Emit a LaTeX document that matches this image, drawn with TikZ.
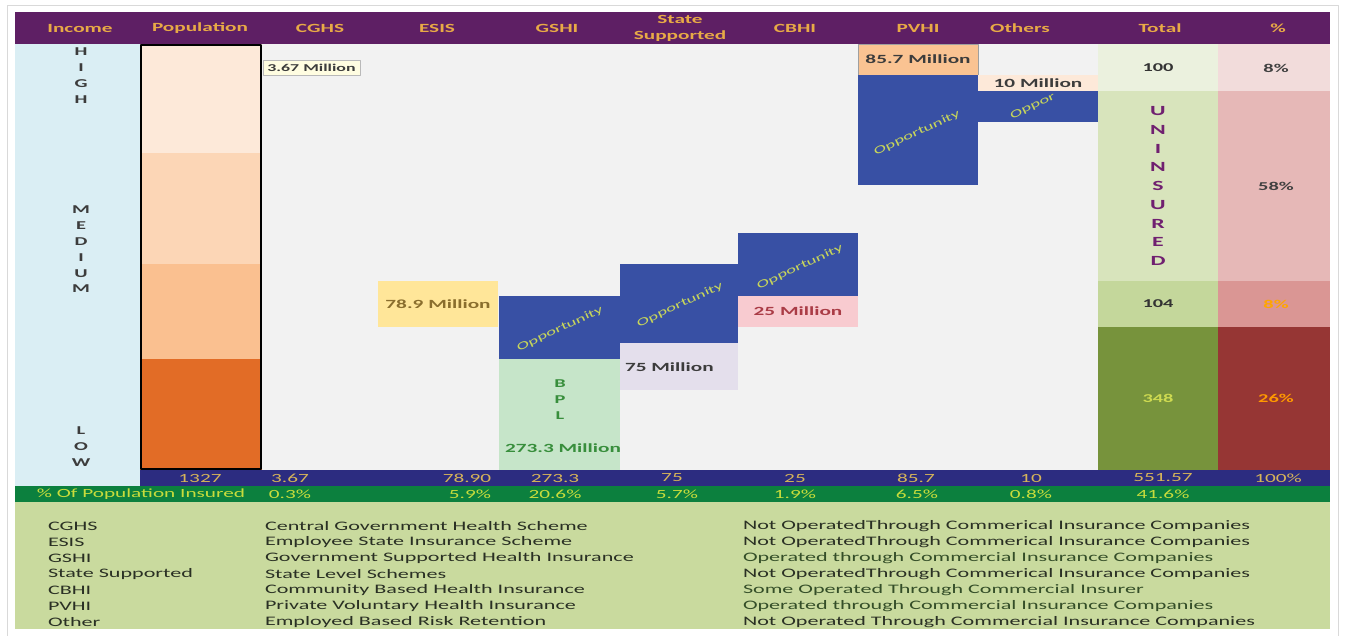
\documentclass[tikz,border=0pt]{standalone}
\usepackage{fontspec}
\setmainfont{Carlito}[FakeStretch=1.7]
\definecolor{hdrpurple}{RGB}{94,31,100}
\definecolor{hdrgold}{RGB}{232,170,70}
\definecolor{incblue}{RGB}{218,238,244}
\definecolor{popA}{RGB}{253,233,217}
\definecolor{popB}{RGB}{252,214,182}
\definecolor{popC}{RGB}{250,192,144}
\definecolor{popD}{RGB}{226,108,38}
\definecolor{plotgray}{RGB}{242,242,242}
\definecolor{oppblue}{RGB}{56,80,164}
\definecolor{oppgreen}{RGB}{200,214,90}
\definecolor{lblyellow}{RGB}{255,230,153}
\definecolor{lblolive}{RGB}{138,110,45}
\definecolor{paleyellow}{RGB}{255,253,225}
\definecolor{bplgreen}{RGB}{198,229,201}
\definecolor{bpltext}{RGB}{56,142,60}
\definecolor{lavender}{RGB}{228,223,236}
\definecolor{pinkbox}{RGB}{248,203,208}
\definecolor{pinktext}{RGB}{170,60,70}
\definecolor{peach}{RGB}{250,195,146}
\definecolor{palepeach}{RGB}{253,233,217}
\definecolor{totA}{RGB}{235,241,222}
\definecolor{totB}{RGB}{216,228,188}
\definecolor{totC}{RGB}{196,215,155}
\definecolor{totD}{RGB}{119,147,60}
\definecolor{pctA}{RGB}{242,220,219}
\definecolor{pctB}{RGB}{230,184,183}
\definecolor{pctC}{RGB}{218,150,148}
\definecolor{pctD}{RGB}{150,54,52}
\definecolor{uninsured}{RGB}{112,32,112}
\definecolor{navyrow}{RGB}{44,44,128}
\definecolor{navytext}{RGB}{214,180,90}
\definecolor{greenrow}{RGB}{12,128,62}
\definecolor{greentext}{RGB}{200,220,60}
\definecolor{legendbg}{RGB}{201,218,158}
\definecolor{legendtext}{RGB}{42,48,36}
\definecolor{legendgreen}{RGB}{52,78,40}
\definecolor{darktext}{RGB}{60,60,60}
\begin{document}
\begin{tikzpicture}[x=1pt, y=-1pt, line join=round, font=\fontsize{12.5}{15}\selectfont,
	every node/.style={inner sep=0pt, outer sep=0pt},
	hdr/.style={text=hdrgold, font=\fontsize{12.5}{16}\selectfont\bfseries, align=center},
	lbl/.style 2 args={minimum width=#1pt, minimum height=#2pt, font=\fontsize{12.5}{15}\selectfont\bfseries},
	opp/.style={text=oppgreen, rotate=25, font=\fontsize{11}{13}\selectfont},
	letter/.style={text=darktext, font=\fontsize{12}{14}\selectfont\bfseries},
	legend/.style={anchor=west, font=\fontsize{13}{15}\selectfont}]
	\useasboundingbox (0,0) rectangle (1346,635);
	\fill[white] (0,0) rectangle (1346,635);
	\draw[gray!30] (7.5,5.5) rectangle (1338.5,640);
	% header row
	\fill[hdrpurple] (15,12) rectangle (1330,44);
	\foreach \x/\t/\n in {80/Income/inc, 200/Population/pop, 320/CGHS/cghs, 437/ESIS/esis, 557/GSHI/gshi,
		680/{State\\Supported}/state, 795/CBHI/cbhi, 918/PVHI/pvhi, 1020/Others/oth, 1160/Total/tot, 1278/\%/pct}
	\node[hdr] (h\n) at (\x,28) {\t};
	% income and population columns
	\fill[incblue] (15,44) rectangle (140,486);
	\fill[plotgray] (262,44) rectangle (1098,470);
	\fill[popA] (140,44) rectangle (262,153);
	\fill[popB] (140,153) rectangle (262,264);
	\fill[popC] (140,264) rectangle (262,359);
	\fill[popD] (140,359) rectangle (262,470);
	\draw[line width=1.6pt] (141,44.8) rectangle (261,469.2);
	\foreach \l [count=\i] in {H,I,G,H}
	\node[letter] (high\i) at (81,{52+16*(\i-1)}) {\l};
	\foreach \l [count=\i] in {M,E,D,I,U,M}
	\node[letter] (med\i) at (81,{210+15.8*(\i-1)}) {\l};
	\foreach \l [count=\i] in {L,O,W}
	\node[letter] (low\i) at (81,{431+16*(\i-1)}) {\l};
	% scheme boxes
	\node[lbl={97}{15}, fill=paleyellow, draw=gray!55, line width=0.6pt, text=darktext,
		font=\fontsize{10.5}{12}\selectfont\bfseries] (cghs) at (311.5,68) {3.67 Million};
	\node[lbl={120}{46}, fill=lblyellow, text=lblolive] (esis) at (438,304) {78.9 Million};
	\fill[oppblue] (499,296) rectangle (620,359);
	\node[opp] (gshiopp) at (560,329) {Opportunity};
	\fill[bplgreen] (499,359) rectangle (620,470);
	\foreach \l [count=\i] in {B,P,L}
	\node[letter, text=bpltext] (bpl\i) at (560,{384+15.8*(\i-1)}) {\l};
	\node[font=\fontsize{12.5}{15}\selectfont\bfseries, text=bpltext] (gshi) at (563,448) {273.3 Million};
	\fill[oppblue] (620,264) rectangle (738,343);
	\node[opp] (stateopp) at (680,305) {Opportunity};
	\fill[lavender] (620,343) rectangle (738,390);
	\node[anchor=west, font=\fontsize{12.5}{15}\selectfont\bfseries, text=darktext] (state) at (625,367) {75 Million};
	\fill[oppblue] (738,233) rectangle (858,296);
	\node[opp] (cbhiopp) at (800,267) {Opportunity};
	\node[lbl={120}{31}, fill=pinkbox, text=pinktext] (cbhi) at (798,311.5) {25 Million};
	\node[lbl={120}{31}, fill=peach, draw=gray!75, line width=0.8pt, text=darktext] (pvhi) at (918,59.5) {85.7 Million};
	\fill[oppblue] (858,75) rectangle (978,185);
	\node[opp] (pvhiopp) at (917,133) {Opportunity};
	\fill[oppblue] (978,91) rectangle (1098,122);
	\begin{scope}
		\clip (978,91) rectangle (1098,122);
		\node[opp, anchor=base west] (othopp) at (1012,119) {Oppor};
	\end{scope}
	\node[lbl={120}{16}, fill=palepeach, text=darktext] (oth) at (1038,83) {10 Million};
	% total and percentage columns
	\fill[totA] (1098,44) rectangle (1218,91);
	\fill[totB] (1098,91) rectangle (1218,281);
	\fill[totC] (1098,281) rectangle (1218,327);
	\fill[totD] (1098,327) rectangle (1218,470);
	\fill[pctA] (1218,44) rectangle (1330,91);
	\fill[pctB] (1218,91) rectangle (1330,281);
	\fill[pctC] (1218,281) rectangle (1330,327);
	\fill[pctD] (1218,327) rectangle (1330,470);
	\foreach \l [count=\i] in {U,N,I,N,S,U,R,E,D}
	\node[font=\fontsize{14}{16}\selectfont\bfseries, text=uninsured] (un\i) at (1158,{111+18.75*(\i-1)}) {\l};
	\node[letter, text=black!80] (tothigh) at (1158,68) {100};
	\node[letter, text=black!80] (totmed) at (1158,304) {104};
	\node[letter, text=oppgreen!90!yellow] (totlow) at (1158,398) {348};
	\node[letter, text=black!75] (pcthigh) at (1276,68) {8\%};
	\node[letter, text=black!75] (pctmid) at (1276,186) {58\%};
	\node[letter, text=orange!70!yellow] (pctmed) at (1276,304) {8\%};
	\node[letter, text=orange!80!yellow] (pctlow) at (1276,398) {26\%};
	% totals row
	\fill[navyrow] (140,470) rectangle (1330,486);
	\foreach \x/\v [count=\i] in {200/1327, 290/3.67, 467/78.90, 555/273.3, 672/75, 795/25, 916/85.7, 1031/10, 1163/551.57, 1278/100\%}
	\node[text=navytext] (sum\i) at (\x,478) {\v};
	% insured row
	\fill[greenrow] (15,486) rectangle (1330,502);
	\node[text=greentext] (inslbl) at (141,494) {\% Of Population Insured};
	\foreach \x/\v [count=\i] in {290/0.3\%, 470/5.9\%, 555/20.6\%, 677/5.7\%, 795/1.9\%, 917/6.5\%, 1031/0.8\%, 1163/41.6\%}
	\node[text=greentext] (ins\i) at (\x,494) {\v};
	% legend
	\fill[legendbg] (15,502) rectangle (1330,629);
	\foreach \a/\b/\c/\k [count=\i] in {
		CGHS/Central Government Health Scheme/Not OperatedThrough Commerical Insurance Companies/legendtext,
		ESIS/Employee State Insurance Scheme/Not OperatedThrough Commerical Insurance Companies/legendtext,
		GSHI/Government Supported Health Insurance/Operated through Commercial Insurance Companies/legendgreen,
		State Supported/State Level Schemes/Not OperatedThrough Commerical Insurance Companies/legendtext,
		CBHI/Community Based Health Insurance/Some Operated Through Commercial Insurer/legendgreen,
		PVHI/Private Voluntary Health Insurance/Operated through Commercial Insurance Companies/legendgreen,
		Other/Employed Based Risk Retention/Not Operated Through Commercial Insurance Companies/legendtext}
	{
		\node[legend, text=legendtext] (abbr\i) at (48,{510+16*\i}) {\a};
		\node[legend, text=legendtext] (name\i) at (265,{510+16*\i}) {\b};
		\node[legend, text=\k] (note\i) at (743,{510+16*\i}) {\c};
	}
\end{tikzpicture}
\end{document}
